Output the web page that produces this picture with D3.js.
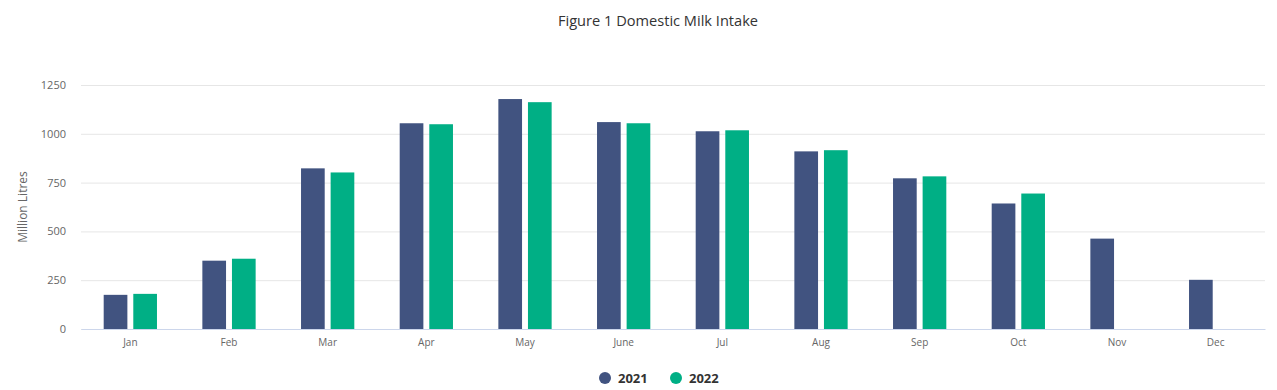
<!DOCTYPE html>
<html><head><meta charset="utf-8">
<script src="https://cdn.jsdelivr.net/npm/d3@7"></script>
<style>body{margin:0;background:#fff}svg{display:block}text{font-family:"Open Sans",sans-serif}</style>
</head><body><div id="chart"></div>
<script>
const categories = ["Jan","Feb","Mar","Apr","May","June","Jul","Aug","Sep","Oct","Nov","Dec"];
const series2021 = [175,350,823,1054,1178,1060,1013,910,772,643,463,252];
const series2022 = [180,360,802,1049,1162,1054,1018,916,782,694,null,null];
const seriesNames = ["2021","2022"];
const colors = ["#415380","#00af85"];
const yTicks = [0,250,500,750,1000,1250];
const titleText = "Figure 1 Domestic Milk Intake";
const yTitle = "Million Litres";

const W=1277,H=390;
const m={l:81,r:12,t:85,b:61};
const svg=d3.select("#chart").append("svg").attr("width",W).attr("height",H);
const x=d3.scaleBand().domain(categories).range([m.l,W-m.r]).paddingInner(0).paddingOuter(0);
const y=d3.scaleLinear().domain([0,1250]).range([H-m.b,m.t]);
// grouping: groupPadding 0.2, pointPadding 0.1
const bw=x.bandwidth();
const inner=d3.scaleBand().domain(seriesNames).range([bw*0.2,bw*0.8]).paddingInner(0.2).paddingOuter(0.1);

svg.append("text").attr("x",658).attr("y",26).attr("text-anchor","middle").attr("fill","#333").attr("font-size","14.6px").text(titleText);

const gy=svg.append("g").attr("transform",`translate(${m.l},0)`)
 .call(d3.axisLeft(y).tickValues(yTicks).tickFormat(d3.format("d")).tickSize(-(W-m.l-m.r)).tickPadding(15));
gy.select(".domain").remove();
gy.selectAll(".tick line").attr("stroke","#e6e6e6");
gy.selectAll(".tick text").attr("fill","#666").attr("font-size","11px").attr("font-family","Open Sans");

svg.append("text").attr("transform",`translate(27,${(m.t+H-m.b)/2}) rotate(-90)`).attr("text-anchor","middle")
 .attr("fill","#666").attr("font-size","12px").text(yTitle);

const data=[series2021,series2022];
data.forEach((s,i)=>{
 svg.append("g").selectAll("rect").data(categories.map((c,j)=>({c,v:s[j]})).filter(d=>d.v!=null))
  .join("rect").attr("x",d=>x(d.c)+inner(seriesNames[i])).attr("width",inner.bandwidth())
  .attr("y",d=>y(d.v)).attr("height",d=>y(0)-y(d.v)).attr("fill",colors[i]);
});

const gx=svg.append("g").attr("transform",`translate(0,${H-m.b})`).call(d3.axisBottom(x).tickSize(0).tickPadding(10));
gx.select(".domain").attr("stroke","#ccd6eb");
gx.selectAll(".tick text").attr("fill","#666").attr("font-size","10px").attr("font-family","Open Sans");

const leg=svg.append("g");
const lx=[605,676];
seriesNames.forEach((n,i)=>{
 leg.append("circle").attr("cx",lx[i]).attr("cy",378).attr("r",6).attr("fill",colors[i]);
 leg.append("text").attr("x",lx[i]+13).attr("y",383).attr("fill","#333").attr("font-size","13px").attr("font-weight","bold").text(n);
});
</script></body></html>
